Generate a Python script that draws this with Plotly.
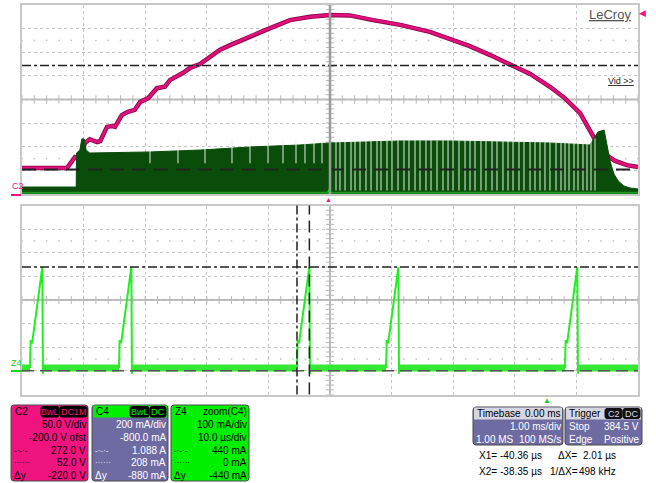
import plotly.graph_objects as go

W, H = 656, 483

# ---------------- data ----------------
# C2 : rectified line voltage, top panel (time in ms, volts)
c2_time_ms = [-5.00, -4.27, -4.14, -4.09, -4.03, -3.98, -3.90, -3.78, -3.73, -3.62, -3.54, -3.49,
              -3.38, -3.28, -3.17, -3.08, -2.95, -2.81, -2.68, -2.60, -2.39, -2.27, -2.11, -1.95,
              -1.79, -1.62, -1.30, -0.97, -0.65, -0.32, 0.00, 0.32, 0.70, 1.14, 1.62, 1.95, 2.27,
              2.60, 2.92, 3.25, 3.57, 3.81, 4.06, 4.22, 4.38, 4.51, 4.63, 4.82, 5.00]
c2_volt = [55, 55, 78, 76, 80, 108, 116, 110, 112, 142, 144, 142,
           167, 174, 178, 195, 203, 224, 227, 241, 256, 267, 275, 290,
           305, 315, 334, 351, 368, 375, 379, 378, 368, 358, 343, 328, 313,
           294, 275, 254, 227, 203, 171, 135, 97, 80, 70, 61, 57]

# C4 : switching current envelope, top panel (ms, A)
c4_env_ms = [-5.00, -4.12, -4.115, -4.06, -4.03, -3.99, -3.96, -3.90, -2.92, -2.11, -1.30, -0.49, 0.00,
             1.14, 1.95, 2.76, 3.57, 4.22, 4.35, 4.45, 4.50, 4.55, 4.61, 4.68, 4.77, 4.87, 5.00]
c4_env_amp = [0.059, 0.059, 0.347, 0.372, 0.466, 0.466, 0.372, 0.347, 0.356, 0.372, 0.398, 0.415, 0.432,
              0.449, 0.449, 0.440, 0.432, 0.415, 0.525, 0.542, 0.389, 0.271, 0.169, 0.110, 0.068, 0.051, 0.042]
# skipped switching cycles (white stripes in the band)
c4_skip_partial_ms = [-2.922, -2.468, -2.029, -1.591, -1.299, -1.006, -0.763, -0.552, -0.406, -0.260, -0.130]
c4_skip_full_ms = [0.097, 0.162, 0.244, 0.341, 0.406, 0.487, 0.584, 0.666, 0.763, 0.828, 0.925, 1.006,
                   1.104, 1.201, 1.282, 1.380, 1.461, 1.558, 1.640, 1.737, 1.834, 1.916, 1.997, 2.094,
                   2.192, 2.273, 2.354, 2.451, 2.532, 2.630, 2.711, 2.808, 2.890, 2.971, 3.068, 3.149,
                   3.247, 3.328, 3.409, 3.490, 3.571, 3.669, 3.750, 3.815, 3.880, 3.961, 4.026, 4.107,
                   4.172, 4.237, 4.302]

# Z4 : zoom of C4, bottom panel (µs, mA)
z4_ramp_us = [-83.70, -83.60, -83.35, -83.15, -81.70, -81.60, None,
              -69.25, -69.15, -68.90, -68.70, -67.25, -67.15, None,
              -40.36, -40.26, -40.01, -39.81, -38.35, -38.25, None,
              -25.90, -25.80, -25.55, -25.35, -23.90, -23.80, None,
              3.15, 3.25, 3.50, 3.70, 5.15, 5.25]
z4_ramp_ma = [12, 130, 118, 160, 440, -12, None,
              12, 130, 118, 160, 440, -12, None,
              12, 130, 118, 160, 440, -12, None,
              12, 130, 118, 160, 440, -12, None,
              12, 130, 118, 160, 440, -12]
z4_base_us = [-85.0, -83.70, None, -81.60, -69.25, None, -67.15, -40.36, None,
              -38.25, -25.90, None, -23.80, 3.15, None, 5.25, 15.0]
z4_base_ma = [12, 12, None, 12, 12, None, 12, 12, None, 12, 12, None, 12, 12, None, 12, 12]

# cursor values
c2_cursor_v = [272.0, 52.0]
z4_cursor_ma = [440.0, 0.0]
z4_cursor_us = [-40.36, -38.35]

# ---------------- layout helpers ----------------
def X(p):
    return p / W


def Y(p):
    return 1 - p / H


PL, PR = 22, 638
TOP = (5, 194)
BOT = (205.5, 394.5)
FONT = "Liberation Sans, Arial, sans-serif"
FS = 10

fig = go.Figure()

GRID = "#c4c4c4"
axis_common = dict(showticklabels=False, ticks="", showline=True, mirror=True,
                   linecolor="#c8c8c8", linewidth=2, showgrid=True, gridcolor=GRID,
                   griddash="dot", gridwidth=1, zeroline=False, fixedrange=True)

fig.update_layout(
    width=W, height=H, margin=dict(l=0, r=0, t=0, b=0), autosize=False,
    paper_bgcolor="white", plot_bgcolor="white", showlegend=False,
    xaxis=dict(domain=[X(PL), X(PR)], range=[-5, 5], dtick=1, tick0=0, anchor="y", **axis_common),
    yaxis=dict(domain=[Y(TOP[1]), Y(TOP[0])], range=[0, 400], dtick=50, tick0=0, anchor="x", **axis_common),
    yaxis2=dict(overlaying="y", range=[0, 1.6], visible=False, anchor="x", fixedrange=True),
    xaxis2=dict(domain=[X(PL), X(PR)], range=[-85, 15], dtick=10, tick0=-35, anchor="y3", **axis_common),
    yaxis3=dict(domain=[Y(BOT[1]), Y(BOT[0])], range=[-100, 700], dtick=100, tick0=0, anchor="x2", **axis_common),
)

# graticule centre lines with minor ticks, and dotted rows at +-2.5 div
shapes = []
for xr, yr, xc, yc in [("x", "y", 0, 200), ("x2", "y3", -35, 300)]:
    shapes.append(dict(type="line", xref=xr + " domain", yref=yr, x0=0, x1=1, y0=yc, y1=yc,
                       line=dict(color="#b8b8b8", width=2), layer="below"))
    shapes.append(dict(type="line", xref=xr, yref=yr + " domain", x0=xc, x1=xc, y0=0, y1=1,
                       line=dict(color="#b8b8b8", width=2), layer="below"))

tick_specs = [
    ("x", "y", -5, 1.0, 200, 50, 0),
    ("x2", "y3", -85, 10.0, 300, 100, -35),
]
for xa, ya, x0, xdiv, yc, ydiv, xc in tick_specs:
    tx = [x0 + xdiv * 0.2 * k for k in range(51)]
    fig.add_trace(go.Scatter(x=tx, y=[yc] * len(tx), xaxis=xa, yaxis=ya, mode="markers",
                             marker=dict(symbol="line-ns", size=6, line=dict(width=1, color="#b8b8b8")),
                             hoverinfo="skip"))
    ty = [yc - 4 * ydiv + ydiv * 0.2 * k for k in range(41)]
    fig.add_trace(go.Scatter(x=[xc] * len(ty), y=ty, xaxis=xa, yaxis=ya, mode="markers",
                             marker=dict(symbol="line-ew", size=6, line=dict(width=1, color="#b8b8b8")),
                             hoverinfo="skip"))
    for row in (yc - 2.5 * ydiv, yc + 2.5 * ydiv):
        fig.add_trace(go.Scatter(x=tx, y=[row] * len(tx), xaxis=xa, yaxis=ya, mode="markers",
                                 marker=dict(symbol="square", size=1.5, color="#c0c0c0"),
                                 hoverinfo="skip"))

# ---------------- top panel traces ----------------
fig.add_trace(go.Scatter(x=c4_env_ms, y=c4_env_amp, xaxis="x", yaxis="y2", mode="lines",
                         line=dict(color="#0a4d0a", width=1), fill="tozeroy", fillcolor="#0a4d0a",
                         hoverinfo="skip"))
fig.add_trace(go.Scatter(x=[-5, 5], y=[0.01, 0.01], xaxis="x", yaxis="y2", mode="lines",
                         line=dict(color="#1f9a1f", width=2), hoverinfo="skip"))
gx, gy = [], []
for t in c4_skip_full_ms:
    gx += [t, t, None]
    gy += [0.03, 0.47, None]
for t in c4_skip_partial_ms:
    gx += [t, t, None]
    gy += [0.26, 0.47, None]
fig.add_trace(go.Scatter(x=gx, y=gy, xaxis="x", yaxis="y2", mode="lines",
                         line=dict(color="rgba(235,245,235,0.8)", width=1.2), hoverinfo="skip"))

fig.add_trace(go.Scatter(x=c2_time_ms, y=c2_volt, xaxis="x", yaxis="y", mode="lines",
                         line=dict(color="#8c0048", width=4.5), hoverinfo="skip"))
fig.add_trace(go.Scatter(x=c2_time_ms, y=c2_volt, xaxis="x", yaxis="y", mode="lines",
                         line=dict(color="#e0107a", width=2.8), hoverinfo="skip"))

# ---------------- bottom panel traces ----------------
fig.add_trace(go.Scatter(x=z4_base_us, y=z4_base_ma, xaxis="x2", yaxis="y3", mode="lines",
                         line=dict(color="#35e835", width=7), hoverinfo="skip"))
fig.add_trace(go.Scatter(x=z4_ramp_us, y=z4_ramp_ma, xaxis="x2", yaxis="y3", mode="lines",
                         line=dict(color="#22ee22", width=2), hoverinfo="skip"))

# ---------------- cursors ----------------
shapes.append(dict(type="line", xref="x domain", yref="y", x0=0, x1=1, y0=c2_cursor_v[0], y1=c2_cursor_v[0],
                   line=dict(color="#222222", width=1.5, dash="dashdot"), layer="above"))
shapes.append(dict(type="line", xref="x domain", yref="y", x0=0, x1=1, y0=c2_cursor_v[1], y1=c2_cursor_v[1],
                   line=dict(color="#222222", width=2, dash="14px,8px"), layer="above"))
shapes.append(dict(type="line", xref="x", yref="y domain", x0=0, x1=0, y0=0, y1=1,
                   line=dict(color="#9a9a9a", width=2.5), layer="above"))
shapes.append(dict(type="line", xref="x2 domain", yref="y3", x0=0, x1=1, y0=z4_cursor_ma[0], y1=z4_cursor_ma[0],
                   line=dict(color="#222222", width=1.5, dash="dashdot"), layer="above"))
shapes.append(dict(type="line", xref="x2 domain", yref="y3", x0=0, x1=1, y0=z4_cursor_ma[1], y1=z4_cursor_ma[1],
                   line=dict(color="#555555", width=1.5, dash="12px,6px"), layer="above"))
shapes.append(dict(type="line", xref="x2", yref="y3 domain", x0=z4_cursor_us[0], x1=z4_cursor_us[0], y0=0, y1=1,
                   line=dict(color="#222222", width=1.5, dash="dashdot"), layer="above"))
shapes.append(dict(type="line", xref="x2", yref="y3 domain", x0=z4_cursor_us[1], x1=z4_cursor_us[1], y0=0, y1=1,
                   line=dict(color="#222222", width=1.5, dash="12px,6px"), layer="above"))

# ---------------- readout boxes ----------------
def rrect(x0, y0, x1, y1, r, fill, line="#4a4a4a", lw=1):
    p = (f"M {X(x0 + r)},{Y(y0)} L {X(x1 - r)},{Y(y0)} Q {X(x1)},{Y(y0)} {X(x1)},{Y(y0 + r)} "
         f"L {X(x1)},{Y(y1 - r)} Q {X(x1)},{Y(y1)} {X(x1 - r)},{Y(y1)} L {X(x0 + r)},{Y(y1)} "
         f"Q {X(x0)},{Y(y1)} {X(x0)},{Y(y1 - r)} L {X(x0)},{Y(y0 + r)} Q {X(x0)},{Y(y0)} {X(x0 + r)},{Y(y0)} Z")
    shapes.append(dict(type="path", xref="paper", yref="paper", path=p, fillcolor=fill,
                       line=dict(color=line, width=lw), layer="above"))


def rect(x0, y0, x1, y1, fill):
    shapes.append(dict(type="rect", xref="paper", yref="paper", x0=X(x0), x1=X(x1), y0=Y(y1), y1=Y(y0),
                       fillcolor=fill, line=dict(width=0), layer="above"))


ann = []


def txt(x, y, s, color="black", size=FS, anchor="left", family=FONT):
    ann.append(dict(x=X(x), y=Y(y), xref="paper", yref="paper", text=s, showarrow=False,
                    xanchor=anchor, yanchor="middle", font=dict(family=family, size=size, color=color),
                    borderpad=0))


MAG = "#f0147f"
PUR = "#6e6aa2"
GRN = "#00f000"

# C2 box
rrect(11, 405, 88, 481, 3, MAG)
rrect(41, 406.5, 59, 417, 2, "black", line="black")
rrect(60, 406.5, 87, 417, 2, "black", line="black")
# C4 box
rrect(92, 405, 168, 481, 3, PUR)
rect(93, 405.5, 167, 417.5, GRN)
rrect(130, 406.5, 149, 417, 2, "black", line="black")
rrect(150, 406.5, 166, 417, 2, "black", line="black")
# Z4 box
rrect(171, 405, 249, 481, 3, GRN)
# Timebase box
rrect(473, 407, 563, 445, 3, PUR)
rect(474, 407.5, 562, 419.5, "#d6d6e2")
# Trigger box
rrect(565, 407, 642, 445, 3, PUR)
rect(566, 407.5, 641, 419.5, "#d6d6e2")
rrect(605, 408.5, 622, 418.5, 2, "#111111", line="#111111")
rrect(623, 408.5, 640, 418.5, 2, "#111111", line="#111111")

rows = [411.5, 424.5, 437.5, 450, 462.5, 475]
# C2 texts
txt(14, rows[0], "C2")
txt(50, rows[0] + 0.5, "BwL", MAG, 9, "center")
txt(73.5, rows[0] + 0.5, "DC1M", MAG, 9, "center")
for i, s in enumerate(["50.0 V/div", "-200.0 V ofst", "272.0 V", "52.0 V", "-220.0 V"]):
    txt(87, rows[i + 1], s, "black", FS, "right")
txt(13, rows[3], "-·-·-", "black", 8)
txt(13, rows[4], "······", "black", 8)
txt(13, rows[5], "Δy", "black", FS)
# C4 texts
txt(95, rows[0], "C4")
txt(139.5, rows[0] + 0.5, "BwL", GRN, 9, "center")
txt(158, rows[0] + 0.5, "DC", GRN, 9, "center")
for i, s in enumerate(["200 mA/div", "-800.0 mA", "1.088 A", "208 mA", "-880 mA"]):
    txt(167, rows[i + 1], s, "white", FS, "right")
txt(94, rows[3], "-·-·-", "white", 8)
txt(94, rows[4], "······", "white", 8)
txt(94, rows[5], "Δy", "white", FS)
# Z4 texts
txt(174, rows[0], "Z4")
txt(248, rows[0], "zoom(C4)", "black", FS, "right")
for i, s in enumerate(["100 mA/div", "10.0 µs/div", "440 mA", "0 mA", "-440 mA"]):
    txt(248, rows[i + 1], s, "black", FS, "right")
txt(173, rows[3], "-·-·-", "black", 8)
txt(173, rows[4], "······", "black", 8)
txt(173, rows[5], "Δy", "black", FS)
# Timebase
txt(476, 413.5, "Timebase")
txt(562, 413.5, "0.00 ms", "black", FS, "right")
txt(562, 426.5, "1.00 ms/div", "white", FS, "right")
txt(475, 439.5, "1.00 MS", "white", FS)
txt(562, 439.5, "100 MS/s", "white", FS, "right")
# Trigger
txt(568, 413.5, "Trigger")
txt(613.5, 413.5, "C2", "#d8d8f0", 9, "center")
txt(631.5, 413.5, "DC", "#d8d8f0", 9, "center")
txt(568, 426.5, "Stop", "white")
txt(640, 426.5, "384.5 V", "white", FS, "right")
txt(568, 439.5, "Edge", "white")
txt(640, 439.5, "Positive", "white", FS, "right")
# cursor readouts
txt(478, 455, "X1=", "black")
txt(543, 455, "-40.36 µs", "black", FS, "right")
txt(557, 455, "ΔX=", "black")
txt(617, 455, "2.01 µs", "black", FS, "right")
txt(478, 471, "X2=", "black")
txt(543, 471, "-38.35 µs", "black", FS, "right")
txt(549, 471, "1/ΔX=", "black")
txt(617, 471, "498 kHz", "black", FS, "right")

# screen labels & markers
txt(632, 14, "<u>LeCroy</u>", "#555555", 13, "right")
txt(642, 13.5, "◀", MAG, 9, "center")
txt(635, 81, "<u>Vid &gt;&gt;</u>", "#222222", 9, "right")
txt(11, 186, "C2", MAG, 9)
shapes.append(dict(type="line", xref="paper", yref="paper", x0=X(11), x1=X(21), y0=Y(195), y1=Y(195),
                   line=dict(color=MAG, width=2), layer="above"))
txt(10, 363, "Z4", "#20d020", 9)
shapes.append(dict(type="line", xref="paper", yref="paper", x0=X(11), x1=X(22), y0=Y(371), y1=Y(371),
                   line=dict(color="#20d020", width=2), layer="above"))
txt(329, 200, "▲", MAG, 7, "center")
txt(329, 190, "▲", "#20d020", 6, "center")
txt(547, 400, "▲", "#20d020", 8, "center")

fig.update_layout(shapes=shapes, annotations=ann)
fig.write_html("out.html", config={"displayModeBar": False},
               post_script="document.body.style.margin='0';document.body.style.overflow='hidden';")
